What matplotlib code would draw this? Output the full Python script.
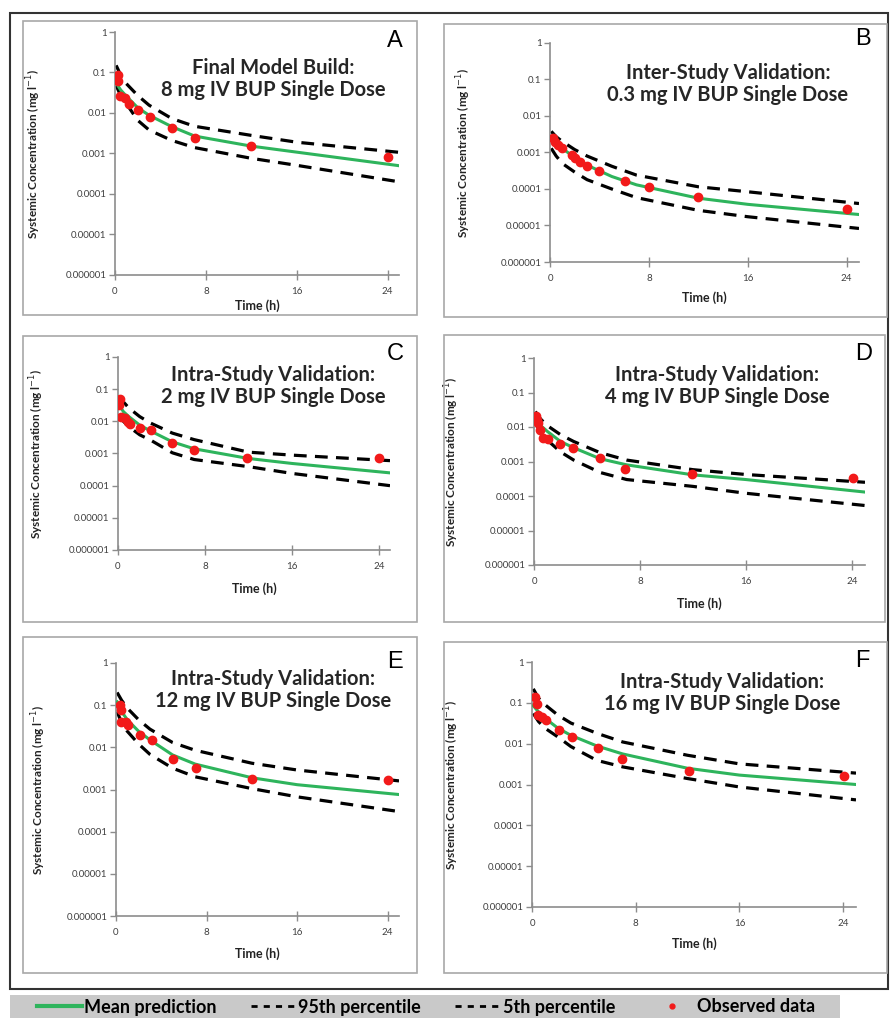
import numpy as np
import matplotlib
matplotlib.use("Agg")
import matplotlib.pyplot as plt
from matplotlib.patches import Rectangle
from matplotlib.lines import Line2D

W, H = 895, 1018

# model curves read at a common time grid (h), concentrations in mg/l
t_grid = [0.1, 0.5, 1, 2, 3, 5, 7, 12, 16, 25]

a_mean = [0.055, 0.037, 0.026, 0.0135, 0.0088, 0.0046, 0.0027, 0.00152, 0.00108, 0.0005]
a_p95 = [0.15, 0.086, 0.053, 0.027, 0.0156, 0.0073, 0.0047, 0.0028, 0.0019, 0.00107]
a_p5 = [0.048, 0.027, 0.017, 0.0066, 0.0038, 0.0021, 0.0014, 0.00076, 0.00051, 0.0002]
a_obs_t = [0.25, 0.3, 0.45, 0.9, 1.2, 2, 3.1, 5, 7, 12, 24]
a_obs_c = [0.085, 0.06, 0.027, 0.023, 0.017, 0.0117, 0.008, 0.0043, 0.0024, 0.0015, 0.00083]

b_mean = [0.0024, 0.0019, 0.0013, 0.00072, 0.00045, 0.00022, 0.00013, 0.000056, 0.000038, 0.00002]
b_p95 = [0.0038, 0.0027, 0.002, 0.0012, 0.0008, 0.00042, 0.00024, 0.000115, 0.000084, 0.00004]
b_p5 = [0.0013, 0.0008, 0.0005, 0.00029, 0.00018, 0.0001, 0.000058, 0.000026, 0.0000174, 0.0000083]
b_obs_t = [0.27, 0.4, 0.67, 0.94, 1.75, 2, 2.4, 3, 4, 6.1, 8, 12, 24]
b_obs_c = [0.00245, 0.002, 0.0016, 0.0013, 0.00085, 0.0007, 0.00056, 0.00044, 0.00031,
           0.000165, 0.000115, 0.0000588, 0.0000282]

c_mean = [0.032, 0.02, 0.014, 0.0076, 0.005, 0.0023, 0.0014, 0.0007, 0.00049, 0.00025]
c_p95 = [0.06, 0.04, 0.026, 0.014, 0.0088, 0.0043, 0.0027, 0.0011, 0.00089, 0.0006]
c_p5 = [0.015, 0.01, 0.0068, 0.0038, 0.0026, 0.00105, 0.00065, 0.00039, 0.00024, 0.0001]
c_obs_t = [0.15, 0.1, 0.3, 0.6, 0.9, 1.07, 2, 3, 5, 7, 11.9, 24]
c_obs_c = [0.049, 0.032, 0.0138, 0.0123, 0.0097, 0.0085, 0.0064, 0.0053, 0.0021, 0.00127, 0.0007, 0.0007]

d_mean = [0.017, 0.011, 0.0075, 0.0038, 0.0025, 0.0012, 0.0008, 0.00041, 0.0003, 0.00013]
d_p95 = [0.028, 0.017, 0.011, 0.006, 0.0038, 0.0018, 0.0011, 0.00058, 0.00042, 0.00025]
d_p5 = [0.013, 0.007, 0.0042, 0.0019, 0.0011, 0.00048, 0.0003, 0.00019, 0.00012, 0.000053]
d_obs_t = [0.18, 0.23, 0.3, 0.43, 0.68, 1.06, 2, 2.94, 5, 6.9, 11.95, 24.1]
d_obs_c = [0.0203, 0.016, 0.013, 0.0083, 0.0048, 0.0046, 0.0032, 0.0024, 0.0013, 0.0006, 0.00044, 0.00033]

e_mean = [0.12, 0.07, 0.045, 0.024, 0.015, 0.0066, 0.004, 0.0019, 0.0013, 0.00076]
e_p95 = [0.2, 0.13, 0.085, 0.045, 0.027, 0.013, 0.0085, 0.0042, 0.0029, 0.0016]
e_p5 = [0.07, 0.038, 0.024, 0.012, 0.0068, 0.0032, 0.002, 0.00105, 0.00067, 0.0003]
e_obs_t = [0.35, 0.4, 0.4, 0.9, 1.1, 2.1, 3.15, 5.06, 7.07, 12.04, 24]
e_obs_c = [0.1, 0.076, 0.04, 0.04, 0.033, 0.0194, 0.0148, 0.0054, 0.0032, 0.0018, 0.00166]

f_mean = [0.085, 0.06, 0.042, 0.024, 0.016, 0.0088, 0.0056, 0.0025, 0.0017, 0.001]
f_p95 = [0.22, 0.13, 0.09, 0.05, 0.032, 0.018, 0.011, 0.0052, 0.0032, 0.0019]
f_p5 = [0.055, 0.035, 0.024, 0.0146, 0.0085, 0.0039, 0.0027, 0.0014, 0.00087, 0.00042]
f_obs_t = [0.26, 0.4, 0.44, 0.77, 1.1, 2.1, 3.1, 5.06, 6.98, 12.1, 24.05]
f_obs_c = [0.139, 0.095, 0.049, 0.045, 0.039, 0.022, 0.0146, 0.0079, 0.0042, 0.0022, 0.0016]

titles = ["Final Model Build:\n8 mg IV BUP Single Dose",
          "Inter-Study Validation:\n0.3 mg IV BUP Single Dose",
          "Intra-Study Validation:\n2 mg IV BUP Single Dose",
          "Intra-Study Validation:\n4 mg IV BUP Single Dose",
          "Intra-Study Validation:\n12 mg IV BUP Single Dose",
          "Intra-Study Validation:\n16 mg IV BUP Single Dose"]
letters = ["A", "B", "C", "D", "E", "F"]
y_ticks = [1e-6, 1e-5, 1e-4, 1e-3, 1e-2, 1e-1, 1]
y_ticklabels = ["0.000001", "0.00001", "0.0001", "0.001", "0.01", "0.1", "1"]
x_ticks = [0, 8, 16, 24]
legend_labels = ["Mean prediction", "95th percentile", "5th percentile", "Observed data"]

curves = [(a_mean, a_p95, a_p5, a_obs_t, a_obs_c),
          (b_mean, b_p95, b_p5, b_obs_t, b_obs_c),
          (c_mean, c_p95, c_p5, c_obs_t, c_obs_c),
          (d_mean, d_p95, d_p5, d_obs_t, d_obs_c),
          (e_mean, e_p95, e_p5, e_obs_t, e_obs_c),
          (f_mean, f_p95, f_p5, f_obs_t, f_obs_c)]

# layout in pixels
boxes = [(23, 21, 417, 315), (444, 24, 887, 317),
         (23, 336, 417, 622), (444, 335, 885, 622),
         (23, 637, 417, 973), (444, 642, 887, 973)]
axes_px = [(115, 32, 399, 275), (550, 43, 859, 262),
           (118, 357, 390, 550), (534, 358, 865, 565),
           (116, 663, 399, 916), (532, 662, 856, 907)]
title_px = [(273, 79), (728, 84), (273, 386), (717, 386), (273, 690), (722, 693)]
letter_px = [(395, 41), (863, 39), (395, 354), (864, 354), (395, 662), (862, 661)]
ylabel_x = [43, 473, 46, 461, 48, 461]   # right edge of rotated label
xlabel_y = [299, 291, 582, 597, 947, 937]   # top of label

green = "#2eb45c"
red = "#f21a1a"
axis_gray = "#8c8c8c"
font = "Lato"


def fig_rect(x0, y0, x1, y1):
    return [x0 / W, 1 - y1 / H, (x1 - x0) / W, (y1 - y0) / H]


fig = plt.figure(figsize=(W / 100, H / 100), dpi=100)

# outer frame and legend bar
fig.patches.append(Rectangle((10 / W, 1 - 989 / H), 878 / W, 976 / H, transform=fig.transFigure,
                             fill=False, edgecolor="#333333", lw=1.5))
fig.patches.append(Rectangle((10 / W, 0), 830 / W, 23 / H, transform=fig.transFigure,
                             facecolor="#c9c9c9", edgecolor="none"))

for i in range(6):
    bx0, by0, bx1, by1 = boxes[i]
    fig.patches.append(Rectangle((bx0 / W, 1 - by1 / H), (bx1 - bx0) / W, (by1 - by0) / H,
                                 transform=fig.transFigure, fill=False,
                                 edgecolor="#a8a8a8", lw=1.2))
    x0, y0, x1, y1 = axes_px[i]
    ax = fig.add_axes(fig_rect(x0, y0, x1, y1))
    ax.patch.set_alpha(0)
    mean, p95, p5, obs_t, obs_c = curves[i]

    ax.plot(t_grid, mean, color=green, lw=2.2, zorder=3)
    ax.plot(t_grid, p95, color="black", lw=2.3, dashes=(4, 2.6), zorder=2)
    ax.plot(t_grid, p5, color="black", lw=2.3, dashes=(4, 2.6), zorder=2)
    ax.plot(obs_t, obs_c, "o", color=red, ms=6, mec=red, zorder=4)

    ax.set_yscale("log")
    ax.set_xlim(0, 25)
    ax.set_ylim(1e-6, 1)
    ax.set_yticks(y_ticks)
    ax.set_yticklabels(y_ticklabels)
    ax.minorticks_off()
    ax.set_xticks(x_ticks)
    for s in ["top", "right"]:
        ax.spines[s].set_visible(False)
    for s in ["left", "bottom"]:
        ax.spines[s].set_color(axis_gray)
        ax.spines[s].set_linewidth(1.2)
    ax.tick_params(axis="y", direction="out", length=4, width=1, color=axis_gray,
                   labelsize=7, labelcolor="#404040", pad=2)
    ax.tick_params(axis="x", direction="inout", length=7, width=1, color=axis_gray,
                   labelsize=7, labelcolor="#404040", pad=5)
    for lab in ax.get_xticklabels() + ax.get_yticklabels():
        lab.set_fontfamily(font)

    ax.set_ylabel("Systemic Concentration (mg l$^{-1}$)", fontsize=8.5, fontweight="bold",
                  fontfamily=font, color="#222222")
    ax.yaxis.set_label_coords((ylabel_x[i] - x0) / (x1 - x0), 0.5)
    ax.set_xlabel("Time (h)", fontsize=9, fontweight="bold", fontfamily=font, color="#222222")
    ax.xaxis.set_label_coords(0.5, 1 - (xlabel_y[i] - y0) / (y1 - y0))

    tx, ty = title_px[i]
    fig.text(tx / W, 1 - ty / H, titles[i], ha="center", va="center", fontsize=14.5,
             fontweight="bold", fontfamily=font, color="#262626", linespacing=1.15)
    lx, ly = letter_px[i]
    fig.text(lx / W, 1 - ly / H, letters[i], ha="center", va="center", fontsize=17,
             fontfamily="Liberation Sans", color="black")

handles = [Line2D([], [], color=green, lw=3),
           Line2D([], [], color="black", lw=2, dashes=(2.2, 2.2)),
           Line2D([], [], color="black", lw=2, dashes=(2.2, 2.2)),
           Line2D([], [], ls="none", marker="o", color=red, ms=3.5)]
fig.legend(handles, legend_labels, loc="center left", bbox_to_anchor=(37 / W, 1 - 1007 / H),
           ncol=4, frameon=False, borderpad=0, borderaxespad=0, handlelength=2.5,
           handletextpad=0.12, columnspacing=1.9,
           prop={"family": font, "weight": "bold", "size": 13})

fig.savefig("out.png", dpi=100)
